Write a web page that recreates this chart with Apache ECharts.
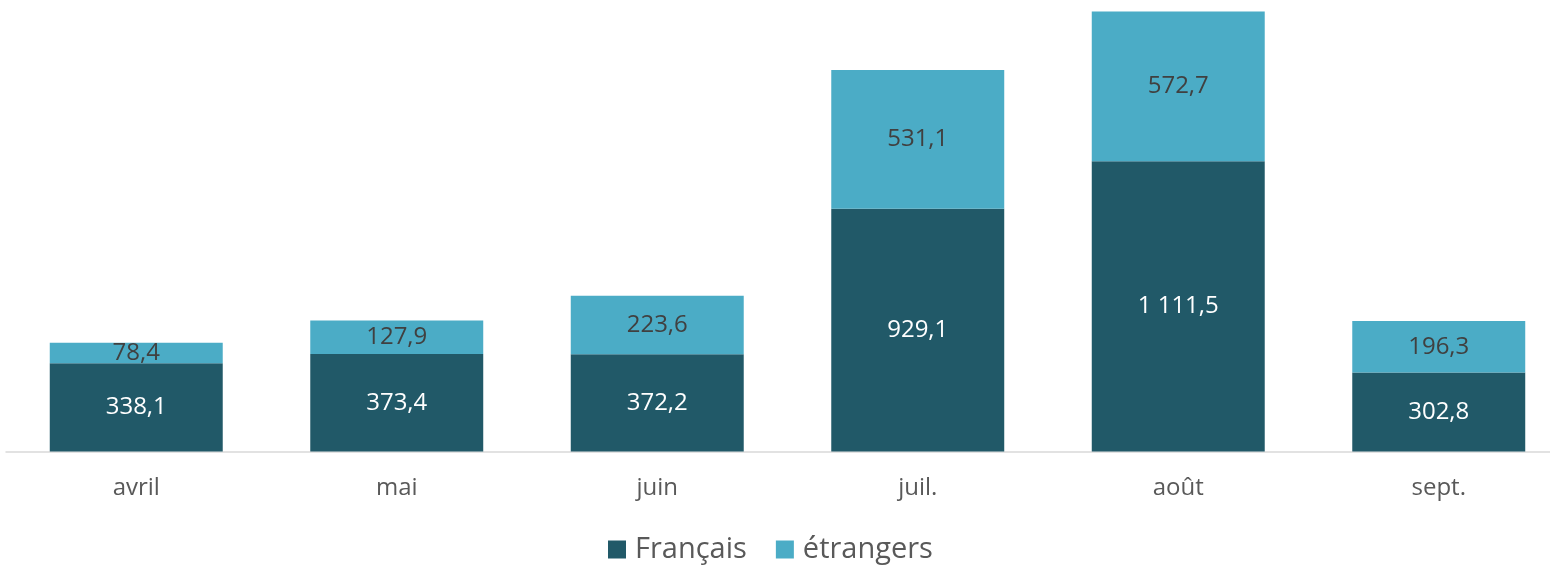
<!DOCTYPE html>
<html><head><meta charset="utf-8">
<script src="https://cdn.jsdelivr.net/npm/echarts@6/dist/echarts.min.js"></script>
<style>html,body{margin:0;padding:0;background:#fff;overflow:hidden}#c{width:1569px;height:565px}</style>
</head><body><div id="c"></div>
<script>
const categories = ['avril', 'mai', 'juin', 'juil.', 'août', 'sept.'];
const francais = [338.1, 373.4, 372.2, 929.1, 1111.5, 302.8];
const etrangers = [78.4, 127.9, 223.6, 531.1, 572.7, 196.3];
const seriesNames = ['Français', 'étrangers'];

function fmt(v) {
  const parts = v.toFixed(1).split('.');
  const int = parts[0].replace(/\B(?=(\d{3})+(?!\d))/g, ' ');
  return int + ',' + parts[1];
}
const FONT = '"Open Sans", sans-serif';
const chart = echarts.init(document.getElementById('c'), null, {renderer: 'canvas'});
chart.setOption({
  animation: false,
  grid: {left: 6, right: 0, top: 10, bottom: 113.5, containLabel: false},
  legend: {
    data: seriesNames, top: 530, left: 603,
    itemWidth: 18, itemHeight: 18, itemGap: 29, icon: 'rect',
    textStyle: {fontFamily: FONT, fontSize: 29, color: '#595959', padding: [0, 0, 0, 4]}
  },
  xAxis: {
    type: 'category', data: categories,
    axisLine: {lineStyle: {color: '#d9d9d9', width: 1.5}},
    axisTick: {show: false},
    axisLabel: {fontFamily: FONT, fontSize: 24, color: '#595959', margin: 25}
  },
  yAxis: {type: 'value', min: 0, max: 1690, show: false, splitLine: {show: false}},
  series: [
    {
      name: seriesNames[0], type: 'bar', stack: 't', data: francais, barWidth: '66.4%',
      itemStyle: {color: '#215968'},
      label: {show: true, position: 'inside', fontFamily: FONT, fontSize: 24, color: '#ffffff',
        formatter: p => fmt(p.value)}
    },
    {
      name: seriesNames[1], type: 'bar', stack: 't', data: etrangers, barWidth: '66.4%',
      itemStyle: {color: '#4bacc6'},
      label: {show: true, position: 'inside', fontFamily: FONT, fontSize: 24, color: '#404040',
        formatter: p => fmt(p.value)}
    }
  ]
});
</script></body></html>
